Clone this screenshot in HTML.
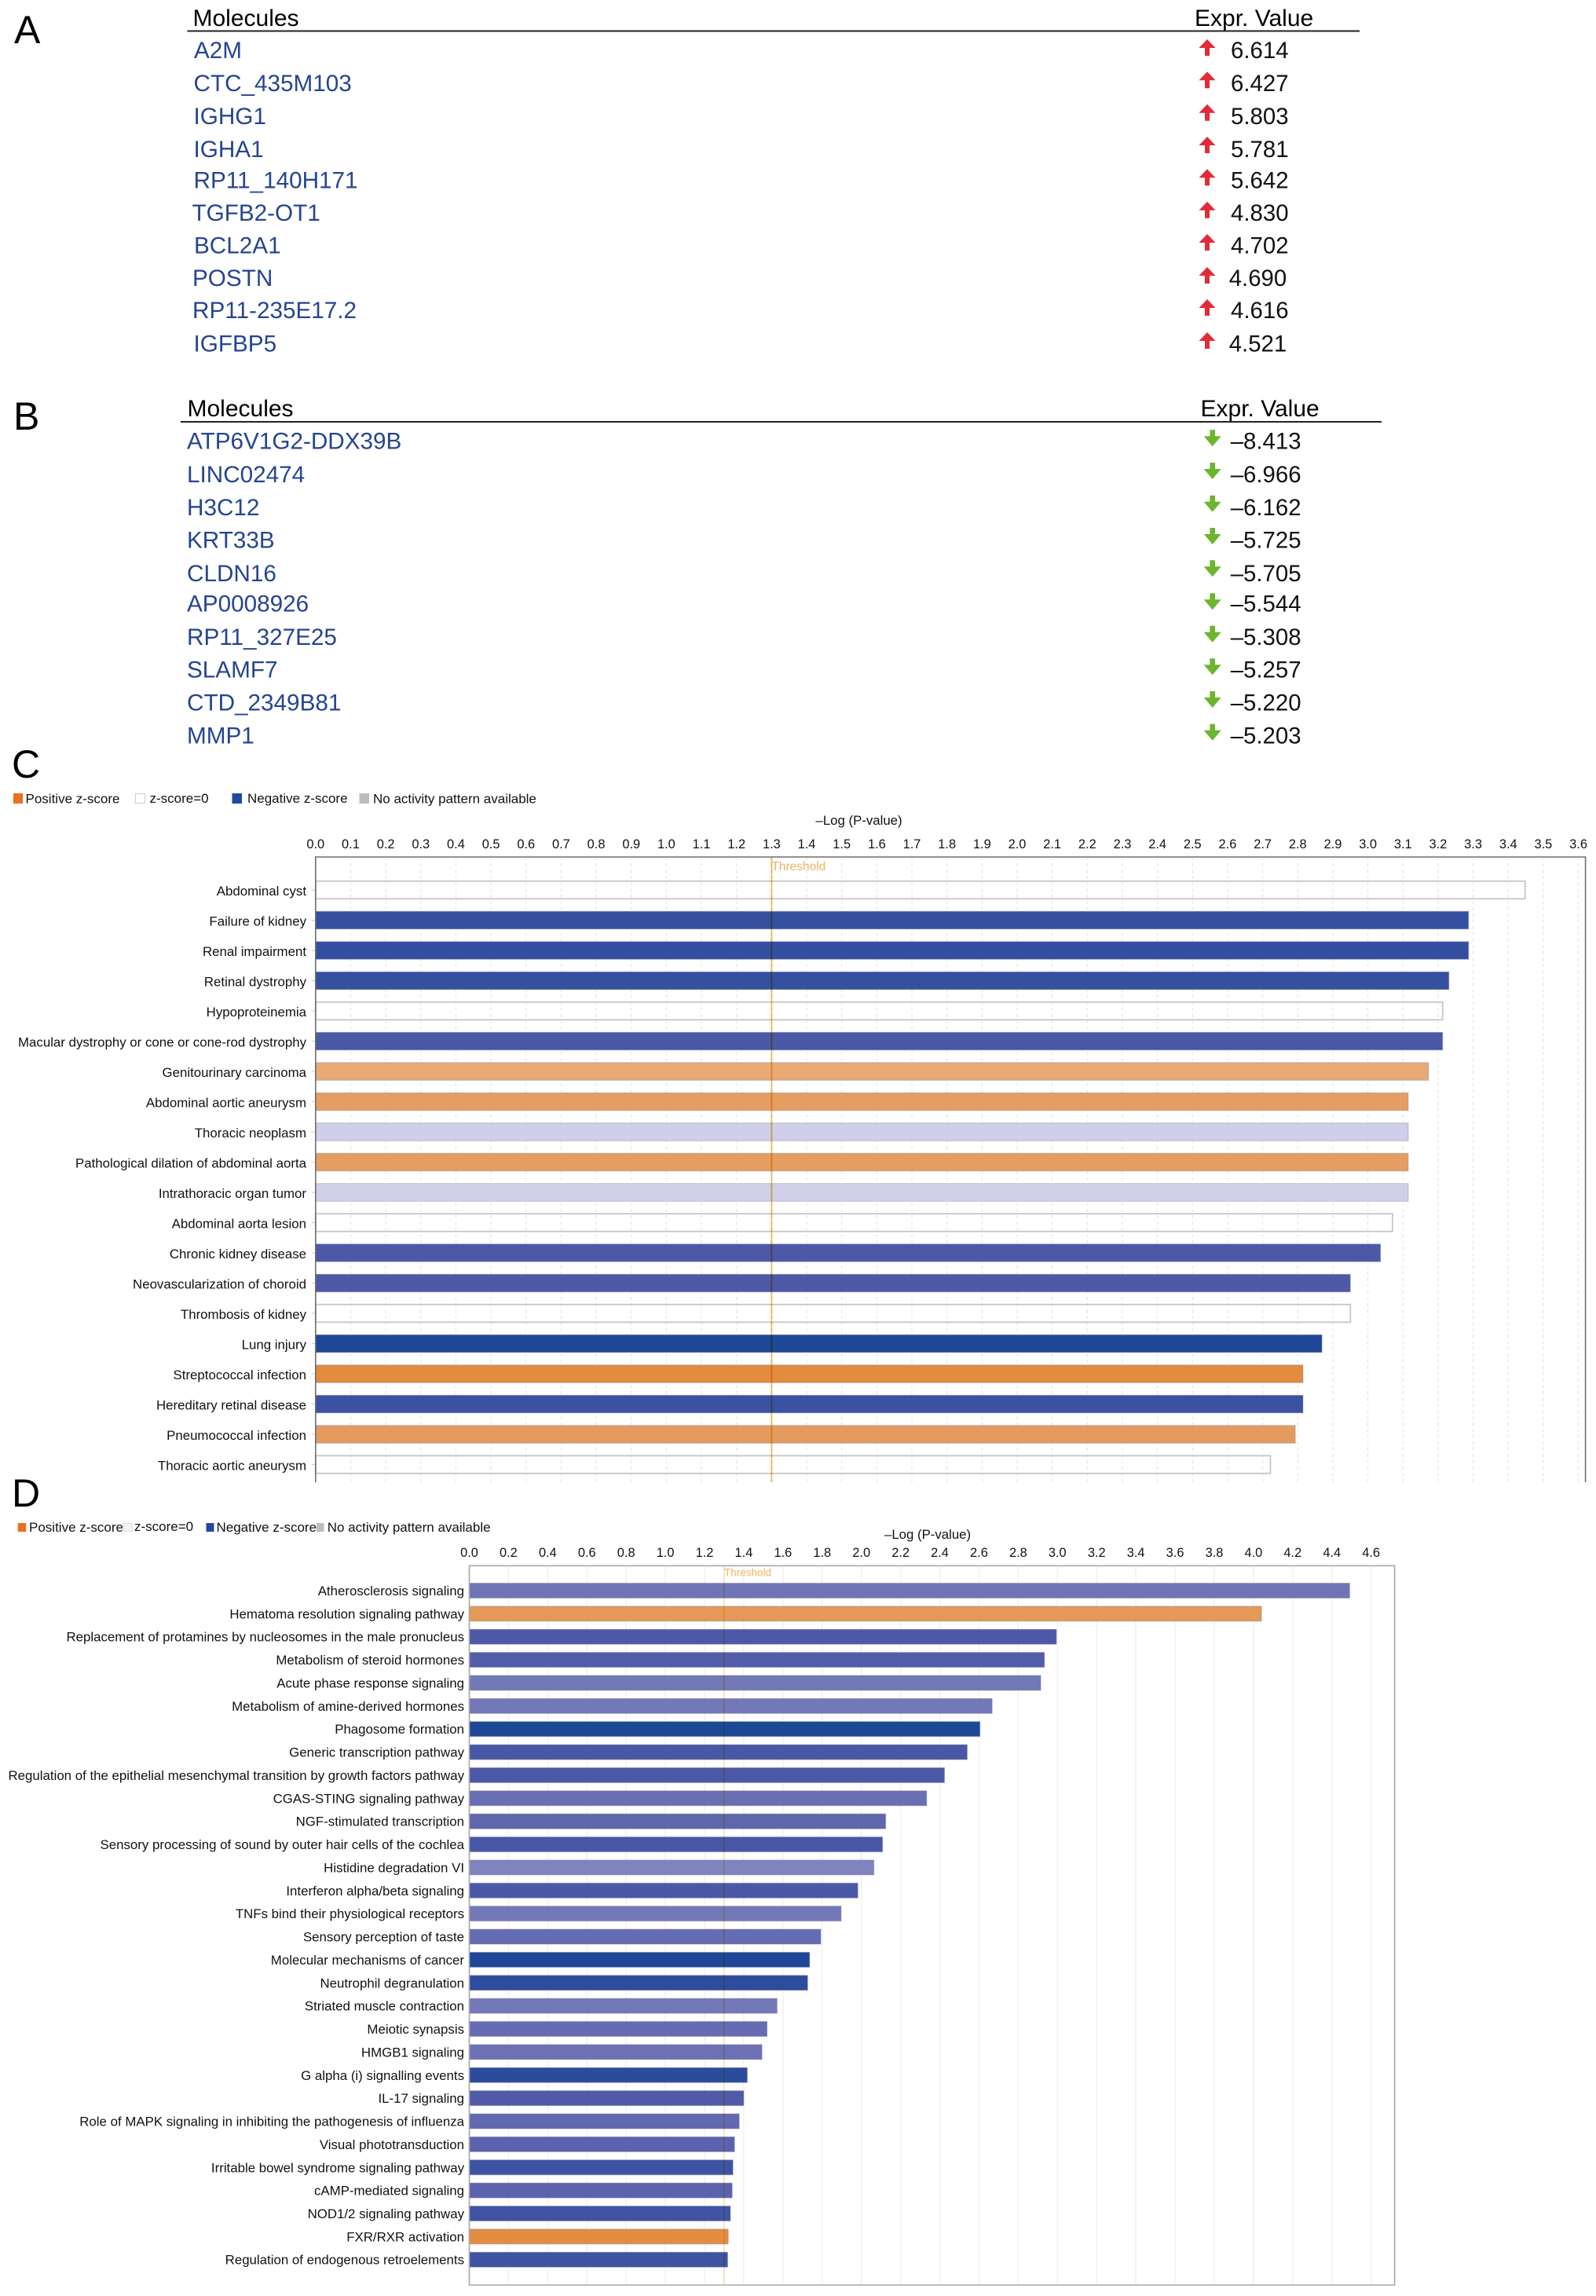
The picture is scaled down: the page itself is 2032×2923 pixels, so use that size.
<!DOCTYPE html>
<html lang="en">
<head>
<meta charset="utf-8">
<title>Differential expression and enrichment panels</title>
<style>
html,body{margin:0;padding:0;background:#fff}
svg{display:block}
text{font-family:"Liberation Sans",Arial,sans-serif;fill:#111}
.panel{font-size:50px;fill:#000}
.head{font-size:30px;fill:#000}
.mol{font-size:29.7px;fill:#25458f}
.val{font-size:29.4px;fill:#111}
.leg{font-size:17px}
.tick{font-size:16.4px;text-anchor:middle}
.cat{font-size:16.85px;text-anchor:end}
.axt{font-size:16.8px}
</style>
</head>
<body>
<svg id="fig" xmlns="http://www.w3.org/2000/svg" width="2032" height="2923" viewBox="0 0 2032 2923">
<rect width="2032" height="2923" fill="#fff"/>

<text class="panel" x="18" y="55">A</text>
<text class="head" x="245.5" y="33">Molecules</text>
<text class="head" x="1521" y="33">Expr. Value</text>
<line x1="238.5" x2="1731" y1="39.5" y2="39.5" stroke="#222" stroke-width="2"/>

<g>
<text class="mol" x="247" y="74">A2M</text>
<text class="mol" x="246.5" y="116">CTC_435M103</text>
<text class="mol" x="246.5" y="158">IGHG1</text>
<text class="mol" x="246.5" y="200">IGHA1</text>
<text class="mol" x="246.5" y="239.5">RP11_140H171</text>
<text class="mol" x="244.5" y="281">TGFB2-OT1</text>
<text class="mol" x="247" y="322.7">BCL2A1</text>
<text class="mol" x="245" y="364">POSTN</text>
<text class="mol" x="245" y="405">RP11-235E17.2</text>
<text class="mol" x="246.5" y="447.7">IGFBP5</text>

<text class="val" x="1567" y="74">6.614</text>
<text class="val" x="1567" y="116">6.427</text>
<text class="val" x="1567" y="158">5.803</text>
<text class="val" x="1567" y="200">5.781</text>
<text class="val" x="1567" y="239.5">5.642</text>
<text class="val" x="1567" y="281">4.830</text>
<text class="val" x="1567" y="322.7">4.702</text>
<text class="val" x="1564.7" y="364">4.690</text>
<text class="val" x="1567" y="405">4.616</text>
<text class="val" x="1564.7" y="447.7">4.521</text>

<g fill="#e22b36">
<path transform="translate(1537,50)" d="M0 0L10.5 11H3V21H-3V11H-10.5Z"/>
<path transform="translate(1537,91.3)" d="M0 0L10.5 11H3V21H-3V11H-10.5Z"/>
<path transform="translate(1537,132.7)" d="M0 0L10.5 11H3V21H-3V11H-10.5Z"/>
<path transform="translate(1537,174)" d="M0 0L10.5 11H3V21H-3V11H-10.5Z"/>
<path transform="translate(1537,215.3)" d="M0 0L10.5 11H3V21H-3V11H-10.5Z"/>
<path transform="translate(1537,256.7)" d="M0 0L10.5 11H3V21H-3V11H-10.5Z"/>
<path transform="translate(1537,298)" d="M0 0L10.5 11H3V21H-3V11H-10.5Z"/>
<path transform="translate(1537,340)" d="M0 0L10.5 11H3V21H-3V11H-10.5Z"/>
<path transform="translate(1537,381)" d="M0 0L10.5 11H3V21H-3V11H-10.5Z"/>
<path transform="translate(1537,423)" d="M0 0L10.5 11H3V21H-3V11H-10.5Z"/>
</g>
</g>

<text class="panel" x="17" y="547">B</text>
<text class="head" x="238.5" y="530">Molecules</text>
<text class="head" x="1528.5" y="530">Expr. Value</text>
<line x1="230" x2="1759" y1="537" y2="537" stroke="#222" stroke-width="2"/>

<g>
<text class="mol" x="238" y="571.7">ATP6V1G2-DDX39B</text>
<text class="mol" x="238" y="614">LINC02474</text>
<text class="mol" x="238" y="656">H3C12</text>
<text class="mol" x="238" y="697.3">KRT33B</text>
<text class="mol" x="238" y="740">CLDN16</text>
<text class="mol" x="238" y="778.7">AP0008926</text>
<text class="mol" x="238" y="821">RP11_327E25</text>
<text class="mol" x="238" y="862.3">SLAMF7</text>
<text class="mol" x="238" y="904.3">CTD_2349B81</text>
<text class="mol" x="238" y="946.7">MMP1</text>

<text class="val" x="1566.7" y="571.7">–8.413</text>
<text class="val" x="1566.7" y="614">–6.966</text>
<text class="val" x="1566.7" y="656">–6.162</text>
<text class="val" x="1566.7" y="697.3">–5.725</text>
<text class="val" x="1566.7" y="740">–5.705</text>
<text class="val" x="1566.7" y="778.7">–5.544</text>
<text class="val" x="1566.7" y="821">–5.308</text>
<text class="val" x="1566.7" y="862.3">–5.257</text>
<text class="val" x="1566.7" y="904.3">–5.220</text>
<text class="val" x="1566.7" y="946.7">–5.203</text>

<g fill="#6cb52d">
<path transform="translate(1543.7,547.3)" d="M-3.3 0H3.3V8H11L0 21L-11 8H-3.3Z"/>
<path transform="translate(1543.7,589)" d="M-3.3 0H3.3V8H11L0 21L-11 8H-3.3Z"/>
<path transform="translate(1543.7,630.7)" d="M-3.3 0H3.3V8H11L0 21L-11 8H-3.3Z"/>
<path transform="translate(1543.7,672)" d="M-3.3 0H3.3V8H11L0 21L-11 8H-3.3Z"/>
<path transform="translate(1543.7,713.3)" d="M-3.3 0H3.3V8H11L0 21L-11 8H-3.3Z"/>
<path transform="translate(1543.7,755.3)" d="M-3.3 0H3.3V8H11L0 21L-11 8H-3.3Z"/>
<path transform="translate(1543.7,796.7)" d="M-3.3 0H3.3V8H11L0 21L-11 8H-3.3Z"/>
<path transform="translate(1543.7,838.3)" d="M-3.3 0H3.3V8H11L0 21L-11 8H-3.3Z"/>
<path transform="translate(1543.7,880)" d="M-3.3 0H3.3V8H11L0 21L-11 8H-3.3Z"/>
<path transform="translate(1543.7,921.7)" d="M-3.3 0H3.3V8H11L0 21L-11 8H-3.3Z"/>
</g>
</g>

<text class="panel" x="15" y="990">C</text>
<g>
<rect x="17" y="1010" width="12" height="13" fill="#e8701e"/>
<text class="leg" x="32.5" y="1022.5">Positive z-score</text>
<rect x="172.5" y="1010.5" width="12" height="12" fill="#fff" stroke="#ccc"/>
<text class="leg" x="190.5" y="1022">z-score=0</text>
<rect x="295.5" y="1010" width="12.5" height="13" fill="#1f4aa0"/>
<text class="leg" x="315" y="1022">Negative z-score</text>
<rect x="457.5" y="1010" width="12.5" height="13" fill="#bdbdbd"/>
<text class="leg" x="475" y="1022.5">No activity pattern available</text>
</g>

<text class="panel" x="15" y="1918">D</text>
<g>
<rect x="22.7" y="1939" width="10.5" height="11" fill="#e8701e"/>
<text class="leg" x="37" y="1950">Positive z-score</text>
<rect x="157.5" y="1939.5" width="10.5" height="10" fill="#f4f4f4" stroke="#ddd"/>
<text class="leg" x="171" y="1949">z-score=0</text>
<rect x="262.5" y="1939" width="10" height="11" fill="#1f4aa0"/>
<text class="leg" x="275.5" y="1950">Negative z-score</text>
<rect x="403" y="1939" width="9.5" height="11" fill="#bdbdbd"/>
<text class="leg" x="416.7" y="1950">No activity pattern available</text>
</g>
</svg>

<script>
/* Panel C data */
const tickLabelsC = ["0.0","0.1","0.2","0.3","0.4","0.5","0.6","0.7","0.8","0.9","1.0","1.1","1.2","1.3","1.4","1.5","1.6","1.7","1.8","1.9","2.0","2.1","2.2","2.3","2.4","2.5","2.6","2.7","2.8","2.9","3.0","3.1","3.2","3.3","3.4","3.5","3.6"];
const categoriesC = ["Abdominal cyst","Failure of kidney","Renal impairment","Retinal dystrophy","Hypoproteinemia","Macular dystrophy or cone or cone-rod dystrophy","Genitourinary carcinoma","Abdominal aortic aneurysm","Thoracic neoplasm","Pathological dilation of abdominal aorta","Intrathoracic organ tumor","Abdominal aorta lesion","Chronic kidney disease","Neovascularization of choroid","Thrombosis of kidney","Lung injury","Streptococcal infection","Hereditary retinal disease","Pneumococcal infection","Thoracic aortic aneurysm"];
const valuesC = [3.448,3.287,3.287,3.231,3.213,3.213,3.173,3.115,3.115,3.115,3.115,3.070,3.036,2.950,2.950,2.869,2.815,2.815,2.793,2.722];
const zScoresC = [0,-3.0,-3.1,-3.0,0,-2.2,1.5,2.0,-0.25,2.0,-0.2,0,-2.1,-2.1,0,-4.0,3.0,-2.8,2.1,0];
const thresholdC = 1.3;

/* Panel D data */
const tickLabelsD = ["0.0","0.2","0.4","0.6","0.8","1.0","1.2","1.4","1.6","1.8","2.0","2.2","2.4","2.6","2.8","3.0","3.2","3.4","3.6","3.8","4.0","4.2","4.4","4.6"];
const categoriesD = ["Atherosclerosis signaling","Hematoma resolution signaling pathway","Replacement of protamines by nucleosomes in the male pronucleus","Metabolism of steroid hormones","Acute phase response signaling","Metabolism of amine-derived hormones","Phagosome formation","Generic transcription pathway","Regulation of the epithelial mesenchymal transition by growth factors pathway","CGAS-STING signaling pathway","NGF-stimulated transcription","Sensory processing of sound by outer hair cells of the cochlea","Histidine degradation VI","Interferon alpha/beta signaling","TNFs bind their physiological receptors","Sensory perception of taste","Molecular mechanisms of cancer","Neutrophil degranulation","Striated muscle contraction","Meiotic synapsis","HMGB1 signaling","G alpha (i) signalling events","IL-17 signaling","Role of MAPK signaling in inhibiting the pathogenesis of influenza","Visual phototransduction","Irritable bowel syndrome signaling pathway","cAMP-mediated signaling","NOD1/2 signaling pathway","FXR/RXR activation","Regulation of endogenous retroelements"];
const valuesD = [4.491,4.041,2.995,2.934,2.915,2.667,2.605,2.540,2.424,2.333,2.124,2.108,2.064,1.982,1.897,1.793,1.736,1.726,1.570,1.519,1.493,1.418,1.400,1.377,1.353,1.345,1.341,1.332,1.321,1.318];
const zScoresD = [-1.1,2.3,-2.1,-1.9,-1.0,-1.0,-4.0,-2.3,-2.2,-1.3,-1.6,-2.3,-0.9,-2.2,-1.0,-1.4,-4.1,-3.4,-1.0,-1.4,-1.2,-3.5,-2.0,-1.5,-1.7,-2.7,-1.7,-2.6,2.9,-2.7];
const thresholdD = 1.3;

const SVGNS = "http://www.w3.org/2000/svg";
const fig = document.getElementById("fig");

function mk(tag, parent) {
  const el = document.createElementNS(SVGNS, tag);
  parent.appendChild(el);
  return el;
}
function slug(s) {
  return s.toLowerCase().replace(/[^a-z0-9]+/g, "-").replace(/^-|-$/g, "");
}
function mix(a, b, t) {
  const c = a.map((v, i) => Math.round(v + (b[i] - v) * t));
  return "rgb(" + c.join(",") + ")";
}
function ramp(stops, v) {
  for (let i = 1; i < stops.length; i++) {
    if (v <= stops[i][0]) {
      const t = Math.max(0, (v - stops[i - 1][0]) / (stops[i][0] - stops[i - 1][0]));
      return mix(stops[i - 1][1], stops[i][1], t);
    }
  }
  return mix(stops[stops.length - 1][1], stops[stops.length - 1][1], 0);
}
function zColor(z) {
  if (z > 0) {
    return ramp([[0, [246, 214, 188]], [1, [236, 182, 138]], [2, [230, 157, 98]], [3, [227, 139, 62]]], z);
  }
  return ramp([[0, [216, 214, 236]], [0.25, [208, 206, 232]], [1, [115, 120, 184]], [2, [80, 90, 168]], [3, [54, 80, 160]], [4, [31, 71, 151]]], -z);
}

function drawChart(id, cfg, tickLabels, categories, values, zScores, threshold) {
  const g = mk("g", fig);
  
  
  const xScale = v => cfg.x0 + v * cfg.perUnit;
  const yScale = i => cfg.y0 + i * cfg.pitch;

  /* grid lines and tick labels */
  tickLabels.forEach(label => {
    const v = parseFloat(label);
    const grid = mk("line", g);
    
    
    grid.setAttribute("x1", xScale(v));
    grid.setAttribute("x2", xScale(v));
    grid.setAttribute("y1", cfg.top);
    grid.setAttribute("y2", cfg.bottom);
    grid.setAttribute("stroke", cfg.gridColor);
    grid.setAttribute("stroke-width", cfg.gridWidth);
    if (cfg.gridDash) grid.setAttribute("stroke-dasharray", cfg.gridDash);
    const tick = mk("text", g);
    
    
    tick.setAttribute("class", "tick");
    tick.setAttribute("x", xScale(v));
    tick.setAttribute("y", cfg.tickBase);
    tick.textContent = label;
  });

  /* bars */
  categories.forEach((name, i) => {
    const y = yScale(i);
    const z = zScores[i];
    const bar = mk("rect", g);
    
    
    bar.setAttribute("x", cfg.x0);
    bar.setAttribute("y", y - cfg.barH / 2);
    bar.setAttribute("width", xScale(values[i]) - cfg.x0);
    bar.setAttribute("height", cfg.barH);
    if (z === 0) {
      bar.setAttribute("fill", "none");
      bar.setAttribute("stroke", "#c6c6c6");
      bar.setAttribute("stroke-width", "1.8");
    } else {
      bar.setAttribute("fill", zColor(z));
      bar.setAttribute("stroke", "rgba(130,135,165,0.45)");
      bar.setAttribute("stroke-width", "1");
    }
    const label = mk("text", g);
    
    
    label.setAttribute("class", "cat");
    label.setAttribute("x", cfg.labelX);
    label.setAttribute("y", y + cfg.labelDy);
    label.textContent = name;
    if (cfg.catTick) {
      const dash = mk("line", g);
      
      
      dash.setAttribute("x1", cfg.x0 - 5);
      dash.setAttribute("x2", cfg.x0);
      dash.setAttribute("y1", y);
      dash.setAttribute("y2", y);
      dash.setAttribute("stroke", "#ccc");
    }
  });

  /* threshold */
  const th = mk("line", g);
  
  
  th.setAttribute("x1", xScale(threshold));
  th.setAttribute("x2", xScale(threshold));
  th.setAttribute("y1", cfg.top);
  th.setAttribute("y2", cfg.bottom);
  th.setAttribute("stroke", cfg.thColor);
  th.setAttribute("stroke-width", cfg.thWidth);
  th.setAttribute("style", "mix-blend-mode:multiply");
  const thLabel = mk("text", g);
  
  
  thLabel.setAttribute("x", xScale(threshold));
  thLabel.setAttribute("y", cfg.thBase);
  thLabel.setAttribute("style", "font-size:" + cfg.thSize + "px;fill:#f0b264");
  thLabel.textContent = "Threshold";

  /* frame */
  const frame = mk("path", g);
  
  
  frame.setAttribute("d", cfg.frameClosed
    ? "M" + cfg.x0 + " " + cfg.top + "H" + cfg.right + "V" + cfg.bottom + "H" + cfg.x0 + "Z"
    : "M" + cfg.x0 + " " + cfg.bottom + "V" + cfg.top + "H" + cfg.right + "V" + cfg.bottom);
  frame.setAttribute("fill", "none");
  frame.setAttribute("stroke", cfg.frameColor);
  frame.setAttribute("stroke-width", "1.6");

  /* axis title */
  const title = mk("text", g);
  
  
  title.setAttribute("class", "axt");
  title.setAttribute("x", cfg.titleX);
  title.setAttribute("y", cfg.titleY);
  title.textContent = "–Log (P-value)";
}

drawChart("panel-c", {
  x0: 401.8, perUnit: 446.6, y0: 1133, pitch: 38.5, barH: 22.5,
  top: 1091, bottom: 1887, right: 2018.6, tickBase: 1080, labelX: 390, labelDy: 7,
  gridColor: "#e2e2e2", gridWidth: 1, gridDash: "4 4", catTick: true,
  thColor: "#f0c36d", thWidth: 2, thBase: 1108, thSize: 15.5,
  frameColor: "#6e6e6e", frameClosed: false, titleX: 1038.5, titleY: 1050
}, tickLabelsC, categoriesC, valuesC, zScoresC, thresholdC);

drawChart("panel-d", {
  x0: 597.5, perUnit: 249.6, y0: 2025, pitch: 29.37, barH: 19,
  top: 1993.3, bottom: 2909, right: 1775.6, tickBase: 1982, labelX: 591, labelDy: 6,
  gridColor: "#f1f1f1", gridWidth: 1.5, gridDash: null, catTick: false,
  thColor: "#f3dcae", thWidth: 1.5, thBase: 2006.5, thSize: 13.5,
  frameColor: "#a8a8a8", frameClosed: true, titleX: 1126, titleY: 1959
}, tickLabelsD, categoriesD, valuesD, zScoresD, thresholdD);
</script>
</body>
</html>
